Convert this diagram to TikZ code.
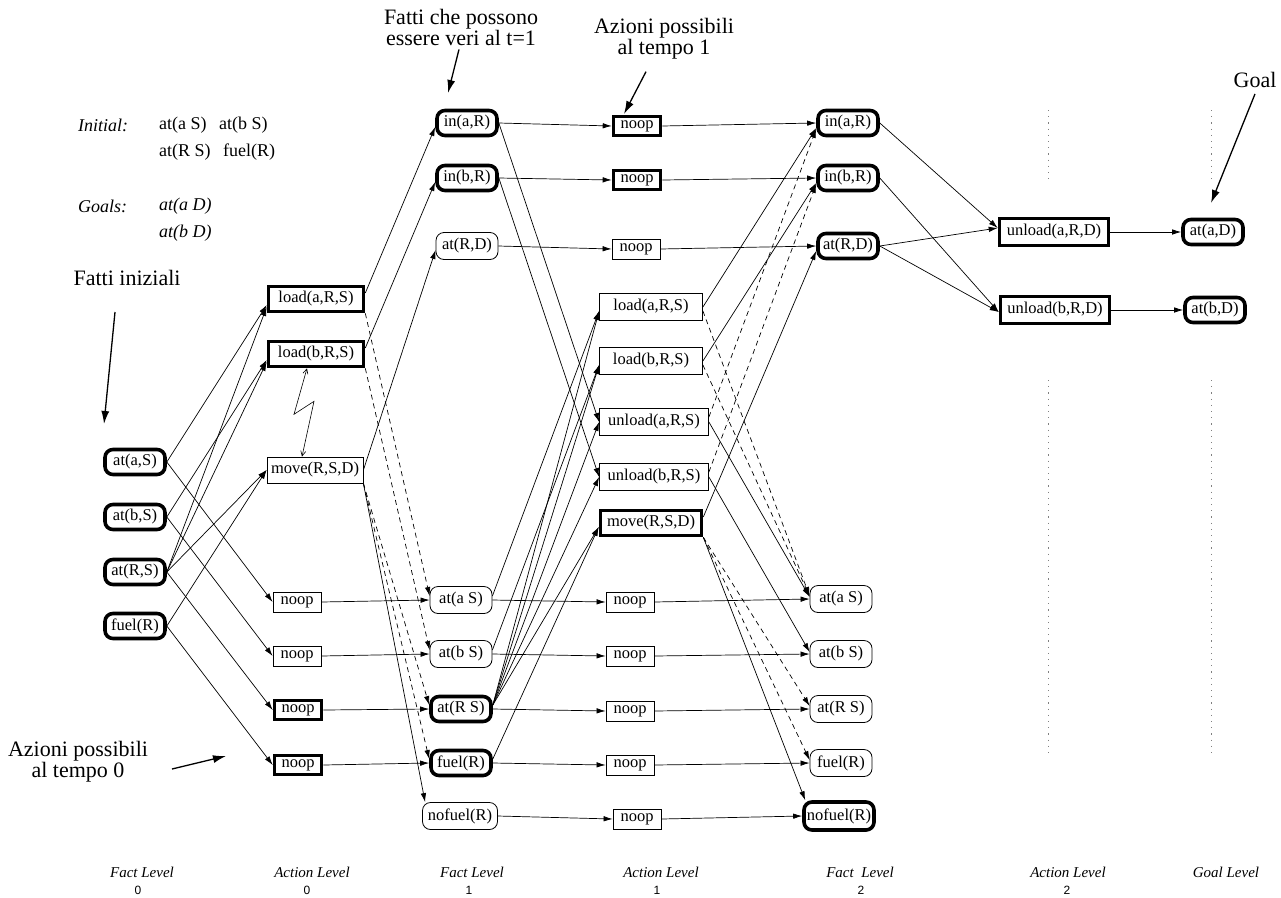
\documentclass[tikz,border=0pt]{standalone}
\usepackage{fontspec}
\setmainfont{Liberation Serif}
\newfontfamily\digitfont{Liberation Sans}
\usetikzlibrary{arrows.meta}
\newcommand\nodefont{\fontsize{16.5}{18}\selectfont}
\newcommand\annfont{\fontsize{22}{19}\selectfont}
\newcommand\infofont{\fontsize{18}{20}\selectfont}
\newcommand\lvlfont{\fontsize{15}{16}\selectfont\itshape}
\newcommand\digfont{\digitfont\fontsize{12}{13}\selectfont}
\tikzset{
  fact/.style={draw, rounded corners=8pt, line width=0.8pt, inner sep=0pt, font=\nodefont, minimum width=62pt, minimum height=27pt},
  bfact/.style={fact, line width=3.6pt, minimum width=60pt, minimum height=25pt},
  act/.style={draw, line width=0.8pt, inner sep=0pt, font=\nodefont, minimum height=27pt},
  bact/.style={act, line width=3.6pt, minimum height=25pt},
  nop/.style={act, minimum width=48pt, minimum height=20pt},
  bnop/.style={bact, minimum width=47pt, minimum height=19pt},
  arr/.style={line width=0.7pt, -{Latex[length=9pt,width=5.5pt]}},
  darr/.style={arr, dash pattern=on 5pt off 4pt},
  ann/.style={line width=1.3pt, -{Latex[length=13pt,width=8pt]}},
  mutex/.style={line width=0.6pt, {Straight Barb[length=5pt,width=5pt]}-{Straight Barb[length=5pt,width=5pt]}},
  txt/.style={inner sep=0pt},
  lvl/.style={inner sep=0pt, font=\lvlfont},
  dig/.style={inner sep=0pt, font=\digfont},
  sep/.style={gray, line width=0.9pt, dash pattern=on 1.2pt off 5pt}
}
\begin{document}
\begin{tikzpicture}[x=1pt,y=-1pt]
\useasboundingbox (0,0) rectangle (1281,897);

% ---------- annotations ----------
\node[txt, anchor=west, font=\infofont\itshape] (ini) at (78,125) {Initial:};
\node[txt, anchor=west, font=\infofont] (i1) at (159,125) {at(a S)};
\node[txt, anchor=west, font=\infofont] (i2) at (219,125) {at(b S)};
\node[txt, anchor=west, font=\infofont] (i3) at (159,152) {at(R S)};
\node[txt, anchor=west, font=\infofont] (i4) at (223,152) {fuel(R)};
\node[txt, anchor=west, font=\infofont\itshape] (gls) at (78,206) {Goals:};
\node[txt, anchor=west, font=\infofont\itshape] (g1) at (159,206) {at(a D)};
\node[txt, anchor=west, font=\infofont\itshape] (g2) at (159,233) {at(b D)};

\node[txt, font=\annfont] (fin) at (127,278) {Fatti iniziali};
\coordinate (finS) at (115,312);
\coordinate (finT) at (104,424);
\draw[ann] (finS) -- (finT);

\node[txt, font=\annfont, align=center] (f1) at (461,27) {Fatti che possono\\essere veri al t=1};
\coordinate (f1T) at (448,93);
\draw[ann] ([xshift=-2pt,yshift=-4pt]f1.south) -- (f1T);

\node[txt, font=\annfont, align=center] (az1) at (664,39) {Azioni possibili\\al tempo 1};
\coordinate (az1T) at (624,114);
\draw[ann] ([xshift=-18pt,yshift=-12pt]az1.south) -- (az1T);

\node[txt, font=\annfont] (goal) at (1255,80) {Goal};
\coordinate (goalT) at (1211,203);
\draw[ann] ([yshift=-6pt]goal.south) -- (goalT);

\node[txt, font=\annfont, align=center] (az0) at (78,762) {Azioni possibili\\al tempo 0};
\coordinate (az0S) at (172,769);
\coordinate (az0T) at (226,756);
\draw[ann] (az0S) -- (az0T);

% ---------- separators ----------
\draw[sep] (1048,110) -- (1048,182);
\draw[sep] (1211,110) -- (1211,182);
\draw[sep] (1048,380) -- (1048,757);
\draw[sep] (1211,380) -- (1211,757);

% ---------- Fact level 0 ----------
\node[bfact] (aS0) at (135,462) {at(a,S)};
\node[bfact] (bS0) at (135,517) {at(b,S)};
\node[bfact] (RS0) at (135,572) {at(R,S)};
\node[bfact] (fu0) at (135,626) {fuel(R)};

% ---------- Action level 0 ----------
\node[bact, minimum width=95pt] (la0) at (316,299) {load(a,R,S)};
\node[bact, minimum width=95pt] (lb0) at (316,354) {load(b,R,S)};
\node[act, minimum width=96pt, minimum height=26pt] (mv0) at (315,470) {move(R,S,D)};
\node[nop] (n0a) at (297,602) {noop};
\node[nop] (n0b) at (297,656) {noop};
\node[bnop] (n0c) at (298,710) {noop};
\node[bnop] (n0d) at (298,765) {noop};

% ---------- Fact level 1 ----------
\node[bfact] (inA1) at (467,123) {in(a,R)};
\node[bfact] (inB1) at (467,178) {in(b,R)};
\node[fact] (RD1) at (467,246) {at(R,D)};
\node[fact] (aS1) at (461,600) {at(a S)};
\node[fact] (bS1) at (461,654) {at(b S)};
\node[bfact] (RS1) at (461,709) {at(R S)};
\node[bfact] (fu1) at (461,763) {fuel(R)};
\node[fact, minimum width=75pt] (nf1) at (460,816) {nofuel(R)};

% ---------- Action level 1 ----------
\node[bnop] (n1a) at (637,126) {noop};
\node[bnop] (n1b) at (637,180) {noop};
\node[nop] (n1c) at (636,249) {noop};
\node[act, minimum width=103pt] (la1) at (651,307) {load(a,R,S)};
\node[act, minimum width=103pt] (lb1) at (651,361) {load(b,R,S)};
\node[act, minimum width=109pt] (ua1) at (654,422) {unload(a,R,S)};
\node[act, minimum width=109pt] (ub1) at (654,477) {unload(b,R,S)};
\node[bact, minimum width=101pt] (mv1) at (651,523) {move(R,S,D)};
\node[nop] (n1d) at (630,602) {noop};
\node[nop] (n1e) at (630,656) {noop};
\node[nop] (n1f) at (630,711) {noop};
\node[nop] (n1g) at (630,765) {noop};
\node[nop] (n1h) at (637,819) {noop};

% ---------- Fact level 2 ----------
\node[bfact] (inA2) at (848,123) {in(a,R)};
\node[bfact] (inB2) at (848,178) {in(b,R)};
\node[bfact] (RD2) at (848,246) {at(R,D)};
\node[fact] (aS2) at (841,599) {at(a S)};
\node[fact] (bS2) at (841,654) {at(b S)};
\node[fact] (RS2) at (841,709) {at(R S)};
\node[fact] (fu2) at (841,763) {fuel(R)};
\node[bfact, minimum width=70pt, minimum height=28pt] (nf2) at (839,816) {nofuel(R)};

% ---------- Action level 2 ----------
\node[bact, minimum width=109pt, minimum height=27pt] (ua2) at (1054,232) {unload(a,R,D)};
\node[bact, minimum width=109pt, minimum height=27pt] (ub2) at (1055,310) {unload(b,R,D)};

% ---------- Goal level ----------
\node[bfact] (aD) at (1213,232) {at(a,D)};
\node[bfact] (bD) at (1215,310) {at(b,D)};

% ---------- level labels ----------
\node[lvl] (L0) at (142,872) {Fact Level};
\node[dig] (L0d) at (138,890) {0};
\node[lvl] (L1) at (312,872) {Action Level};
\node[dig] (L1d) at (307,890) {0};
\node[lvl] (L2) at (472,872) {Fact Level};
\node[dig] (L2d) at (469,890) {1};
\node[lvl] (L3) at (661,872) {Action Level};
\node[dig] (L3d) at (657,890) {1};
\node[lvl] (L4) at (860,872) {Fact\ \ Level};
\node[dig] (L4d) at (861,890) {2};
\node[lvl] (L5) at (1068,872) {Action Level};
\node[dig] (L5d) at (1067,890) {2};
\node[lvl] (L6) at (1226,872) {Goal Level};

% ---------- F0 -> A0 ----------
\draw[arr] (aS0.east) -- ([yshift=-6pt]la0.west);
\draw[arr] (RS0.east) -- ([yshift=-8pt]la0.west);
\draw[arr] (bS0.east) -- ([yshift=-6pt]lb0.west);
\draw[arr] (RS0.east) -- ([yshift=-8pt]lb0.west);
\draw[arr] (RS0.east) -- (mv0.west);
\draw[arr] (fu0.east) -- (mv0.west);
\draw[arr] (aS0.east) -- (n0a.west);
\draw[arr] (bS0.east) -- (n0b.west);
\draw[arr] (RS0.east) -- (n0c.west);
\draw[arr] (fu0.east) -- (n0d.west);

% mutex
\draw[mutex] ([xshift=-9pt]lb0.south) -- ++(-13,46) -- ++(20,-13) -- ([xshift=-13pt]mv0.north);

% ---------- A0 -> F1 ----------
\draw[arr] ([yshift=6pt]la0.east) -- ([yshift=-4pt]inA1.west);
\draw[arr] ([yshift=6pt]lb0.east) -- ([yshift=-4pt]inB1.west);
\draw[arr] (mv0.east) -- ([yshift=-4pt]RD1.west);
\draw[darr] (la0.south east) -- ([yshift=4pt]aS1.west);
\draw[darr] (lb0.south east) -- ([yshift=4pt]bS1.west);
\draw[darr] (mv0.south east) -- ([yshift=4pt]RS1.west);
\draw[darr] (mv0.south east) -- ([yshift=4pt]fu1.west);
\draw[arr] (mv0.south east) -- ([xshift=3pt]nf1.north west);
\draw[arr] (n0a.east) -- (aS1.west);
\draw[arr] (n0b.east) -- (bS1.west);
\draw[arr] (n0c.east) -- (RS1.west);
\draw[arr] (n0d.east) -- (fu1.west);

% ---------- F1 -> A1 ----------
\draw[arr] (inA1.east) -- (n1a.west);
\draw[arr] (inB1.east) -- (n1b.west);
\draw[arr] (RD1.east) -- (n1c.west);
\draw[arr] (inA1.east) -- (ua1.west);
\draw[arr] (inB1.east) -- (ub1.west);
\draw[arr] ([yshift=4pt]aS1.east) -- ([yshift=-4pt]la1.west);
\draw[arr] ([yshift=4pt]bS1.east) -- ([yshift=-4pt]lb1.west);
\draw[arr] ([yshift=4pt]RS1.east) -- ([yshift=-4pt]la1.west);
\draw[arr] ([yshift=4pt]RS1.east) -- ([yshift=-4pt]lb1.west);
\draw[arr] ([yshift=4pt]RS1.east) -- (ua1.west);
\draw[arr] ([yshift=4pt]RS1.east) -- (ub1.west);
\draw[arr] ([yshift=4pt]RS1.east) -- ([yshift=-4pt]mv1.west);
\draw[arr] ([yshift=4pt]fu1.east) -- ([yshift=-4pt]mv1.west);
\draw[arr] (aS1.east) -- (n1d.west);
\draw[arr] (bS1.east) -- (n1e.west);
\draw[arr] (RS1.east) -- (n1f.west);
\draw[arr] (fu1.east) -- (n1g.west);
\draw[arr] (nf1.east) -- (n1h.west);

% ---------- A1 -> F2 ----------
\draw[arr] (n1a.east) -- (inA2.west);
\draw[arr] (n1b.east) -- (inB2.west);
\draw[arr] (n1c.east) -- (RD2.west);
\draw[arr] (la1.east) -- ([yshift=-5pt]inA2.west);
\draw[arr] (lb1.east) -- ([yshift=-5pt]inB2.west);
\draw[darr] ([yshift=5pt]ua1.east) -- ([yshift=-6pt]inA2.west);
\draw[darr] ([yshift=5pt]ub1.east) -- ([yshift=-6pt]inB2.west);
\draw[arr] ([yshift=6pt]mv1.east) -- ([yshift=-5pt]RD2.west);
\draw[darr] ([yshift=-4pt]la1.east) -- ([yshift=3pt]aS2.west);
\draw[darr] ([yshift=-4pt]lb1.east) -- ([yshift=3pt]aS2.west);
\draw[arr] (ua1.east) -- ([yshift=2pt]aS2.west);
\draw[arr] (ub1.east) -- ([yshift=2pt]bS2.west);
\draw[darr] (mv1.south east) -- ([yshift=3pt]RS2.west);
\draw[darr] (mv1.south east) -- ([yshift=3pt]fu2.west);
\draw[arr] (mv1.south east) -- ([xshift=3pt]nf2.north west);
\draw[arr] (n1d.east) -- (aS2.west);
\draw[arr] (n1e.east) -- (bS2.west);
\draw[arr] (n1f.east) -- (RS2.west);
\draw[arr] (n1g.east) -- (fu2.west);
\draw[arr] (n1h.east) -- (nf2.west);

% ---------- F2 -> A2 ----------
\draw[arr] (inA2.east) -- ([yshift=4pt]ua2.west);
\draw[arr] (RD2.east) -- ([yshift=4pt]ua2.west);
\draw[arr] (RD2.east) -- ([yshift=-2pt]ub2.west);
\draw[arr] (inB2.east) -- ([yshift=-2pt]ub2.west);

% ---------- A2 -> Goal ----------
\draw[arr] (ua2.east) -- (aD.west);
\draw[arr] (ub2.east) -- (bD.west);
\end{tikzpicture}
\end{document}
